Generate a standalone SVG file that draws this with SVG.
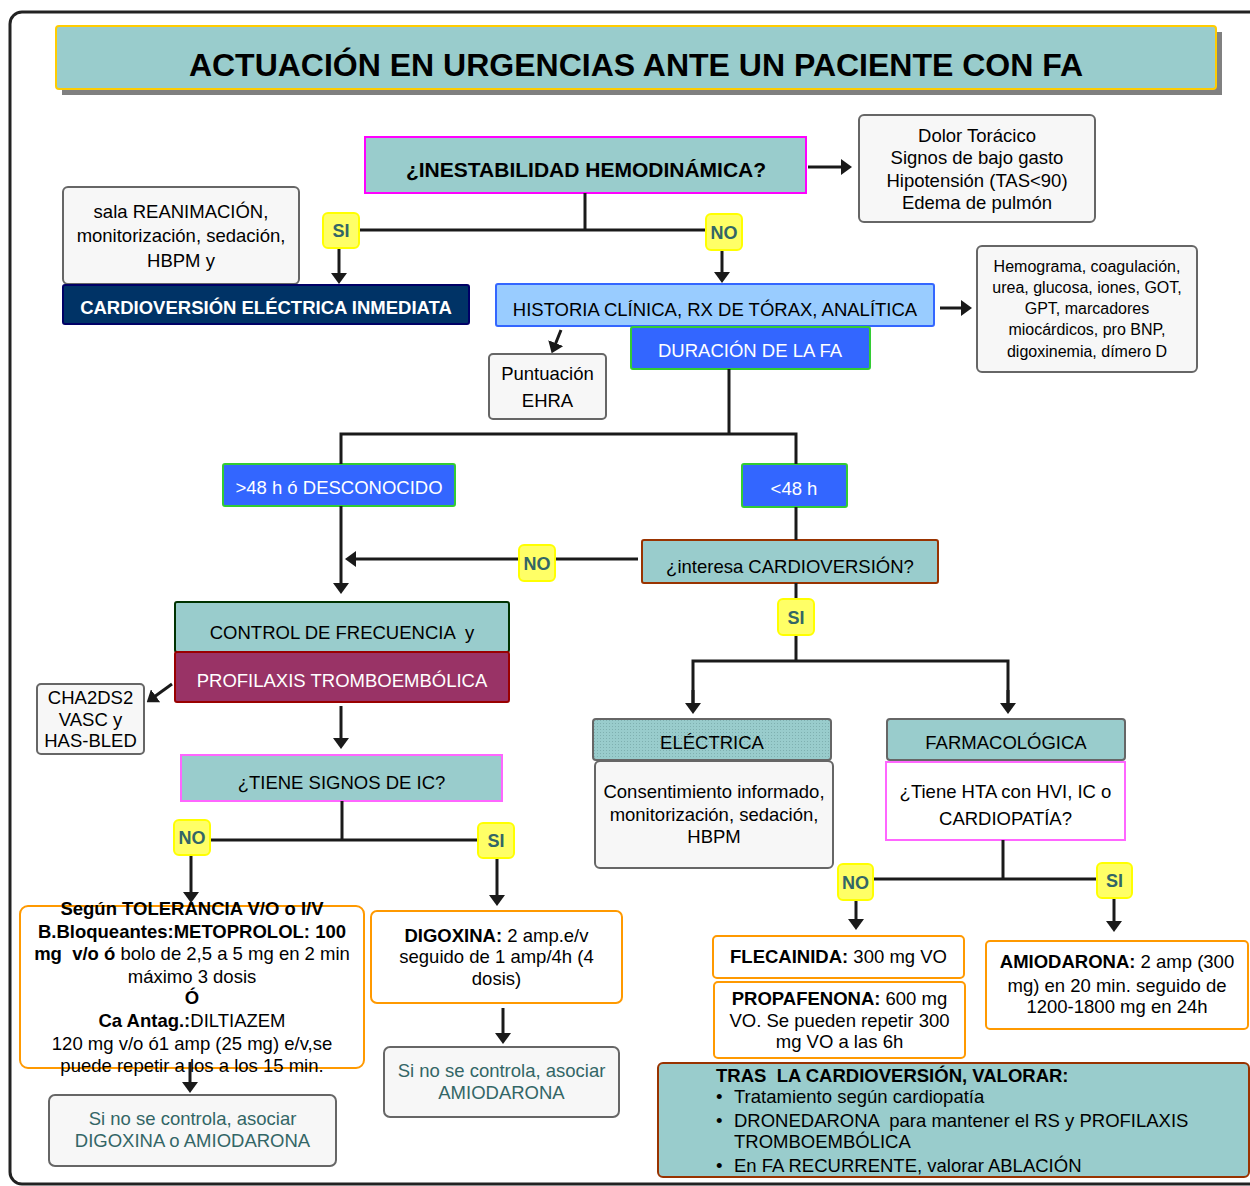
<svg xmlns="http://www.w3.org/2000/svg" width="1250" height="1186" viewBox="0 0 1250 1186">
<defs>
<style>
text{font-family:"Liberation Sans",Arial,sans-serif;fill:#000;}
.t{font-size:18.5px;text-anchor:middle;}
.ts{font-size:16px;text-anchor:middle;}
.b{font-weight:bold;}
.w{fill:#fff;}
.teal{fill:#336666;}
.grey{fill:#F7F7F7;stroke:#666;stroke-width:2;}
.org{fill:#fff;stroke:#FF9900;stroke-width:2;}
.aqua{fill:#99CCCC;}
.lbl rect{fill:#FFFF66;stroke:#FFFF00;stroke-width:2;}
.lbl text{font-size:18px;font-weight:bold;fill:#336666;text-anchor:middle;}
.c line,.c path{stroke:#1a1a1a;stroke-width:3;fill:none;}
.a{marker-end:url(#ah);}
</style>
<marker id="ah" viewBox="0 0 11 16" markerWidth="11" markerHeight="16" refX="2" refY="8" orient="auto" markerUnits="userSpaceOnUse">
<path d="M0,0 L11,8 L0,16 z" fill="#1a1a1a"/>
</marker>
<pattern id="dots" width="3" height="3" patternUnits="userSpaceOnUse">
<rect width="3" height="3" fill="#99CCCC"/>
<rect width="1" height="1" fill="#7FB0B0"/>
</pattern>
</defs>

<rect x="10" y="12" width="1272" height="1172" rx="12" fill="none" stroke="#222" stroke-width="3"/>

<g id="title">
<rect x="62" y="32" width="1160" height="63" fill="#808080"/>
<rect x="56" y="26" width="1160" height="63" rx="3" fill="#99CCCC" stroke="#FFCC00" stroke-width="2"/>
<text x="636" y="76" class="b" style="font-size:32px;text-anchor:middle">ACTUACIÓN EN URGENCIAS ANTE UN PACIENTE CON FA</text>
</g>

<g id="n-inestabilidad">
<rect x="365" y="137" width="441" height="56" class="aqua" stroke="#FF00FF" stroke-width="2"/>
<text x="586" y="177" class="b" style="font-size:21px;text-anchor:middle">¿INESTABILIDAD HEMODINÁMICA?</text>
</g>
<g id="n-dolor">
<rect x="859" y="115" width="236" height="107" rx="5" class="grey"/>
<text class="t"><tspan x="977" y="142">Dolor Torácico</tspan><tspan x="977" y="164">Signos de bajo gasto</tspan><tspan x="977" y="187">Hipotensión (TAS&lt;90)</tspan><tspan x="977" y="209">Edema de pulmón</tspan></text>
</g>
<g id="n-sala">
<rect x="63" y="187" width="236" height="97" rx="5" class="grey"/>
<text class="t"><tspan x="181" y="218">sala REANIMACIÓN,</tspan><tspan x="181" y="242">monitorización, sedación,</tspan><tspan x="181" y="267">HBPM y</tspan></text>
</g>
<g id="n-cve">
<rect x="63" y="285" width="406" height="39" rx="2" fill="#003366" stroke="#000066" stroke-width="2"/>
<text x="266" y="314" class="t b w">CARDIOVERSIÓN ELÉCTRICA INMEDIATA</text>
</g>
<g id="n-historia">
<rect x="496" y="284" width="438" height="42" rx="2" fill="#99CCFF" stroke="#3366FF" stroke-width="2"/>
<text x="715" y="316" class="t">HISTORIA CLÍNICA, RX DE TÓRAX, ANALÍTICA</text>
</g>
<g id="n-hemograma">
<rect x="977" y="246" width="220" height="126" rx="5" class="grey"/>
<text class="ts"><tspan x="1087" y="272">Hemograma, coagulación,</tspan><tspan x="1087" y="293">urea, glucosa, iones, GOT,</tspan><tspan x="1087" y="314">GPT, marcadores</tspan><tspan x="1087" y="335">miocárdicos, pro BNP,</tspan><tspan x="1087" y="357">digoxinemia, dímero D</tspan></text>
</g>
<g id="n-duracion">
<rect x="631" y="327" width="239" height="42" rx="2" fill="#3366FF" stroke="#33CC33" stroke-width="2"/>
<text x="750" y="357" class="t w">DURACIÓN DE LA FA</text>
</g>
<g id="n-ehra">
<rect x="489" y="354" width="117" height="65" rx="4" class="grey"/>
<text class="t"><tspan x="547.5" y="380">Puntuación</tspan><tspan x="547.5" y="407">EHRA</tspan></text>
</g>
<g id="n-mas48">
<rect x="223" y="464" width="232" height="42" rx="2" fill="#3366FF" stroke="#33CC33" stroke-width="2"/>
<text x="339" y="494" class="t w">&gt;48 h ó DESCONOCIDO</text>
</g>
<g id="n-menos48">
<rect x="742" y="464" width="105" height="43" rx="2" fill="#3366FF" stroke="#33CC33" stroke-width="2"/>
<text x="794" y="495" class="t w">&lt;48 h</text>
</g>
<g id="n-interesa">
<rect x="642" y="540" width="296" height="43" rx="2" class="aqua" stroke="#993300" stroke-width="2"/>
<text x="790" y="573" class="t">¿interesa CARDIOVERSIÓN?</text>
</g>
<g id="n-control">
<rect x="175" y="602" width="334" height="50" rx="2" class="aqua" stroke="#003300" stroke-width="2"/>
<text x="342" y="639" class="t" xml:space="preserve">CONTROL DE FRECUENCIA  y</text>
</g>
<g id="n-profilaxis">
<rect x="175" y="652" width="334" height="50" rx="2" fill="#993366" stroke="#990000" stroke-width="2"/>
<text x="342" y="687" class="t w">PROFILAXIS TROMBOEMBÓLICA</text>
</g>
<g id="n-cha2ds2">
<rect x="37" y="684" width="107" height="70" rx="4" class="grey"/>
<text class="t"><tspan x="90.5" y="704">CHA2DS2</tspan><tspan x="90.5" y="726">VASC y</tspan><tspan x="90.5" y="747">HAS-BLED</tspan></text>
</g>
<g id="n-tiene-ic">
<rect x="181" y="755" width="321" height="46" class="aqua" stroke="#FF66FF" stroke-width="2"/>
<text x="341.5" y="789" class="t">¿TIENE SIGNOS DE IC?</text>
</g>
<g id="n-segun">
<rect x="20" y="906" width="344" height="162" rx="8" class="org"/>
<text class="t"><tspan x="192" y="915" class="b">Según TOLERANCIA V/O o I/V</tspan><tspan x="192" y="938" class="b">B.Bloqueantes:METOPROLOL: 100</tspan><tspan x="192" y="960"><tspan class="b" xml:space="preserve">mg  v/o ó</tspan> bolo de 2,5 a 5 mg en 2 min</tspan><tspan x="192" y="983">máximo 3 dosis</tspan><tspan x="192" y="1004" class="b">Ó</tspan><tspan x="192" y="1027"><tspan class="b">Ca Antag.:</tspan>DILTIAZEM</tspan><tspan x="192" y="1050">120 mg v/o ó1 amp (25 mg) e/v,se</tspan><tspan x="192" y="1072">puede repetir a los a los 15 min.</tspan></text>
</g>
<g id="n-sino-digox">
<rect x="49" y="1095" width="287" height="71" rx="6" class="grey" fill="#F5F5F5"/>
<text class="t teal"><tspan x="192.5" y="1125">Si no se controla, asociar</tspan><tspan x="192.5" y="1147">DIGOXINA o AMIODARONA</tspan></text>
</g>
<g id="n-digoxina">
<rect x="371" y="911" width="251" height="92" rx="6" class="org"/>
<text class="t"><tspan x="496.5" y="942"><tspan class="b">DIGOXINA:</tspan> 2 amp.e/v</tspan><tspan x="496.5" y="963">seguido de 1 amp/4h (4</tspan><tspan x="496.5" y="985">dosis)</tspan></text>
</g>
<g id="n-sino-amio">
<rect x="384" y="1047" width="235" height="70" rx="6" class="grey"/>
<text class="t teal"><tspan x="501.5" y="1077">Si no se controla, asociar</tspan><tspan x="501.5" y="1099">AMIODARONA</tspan></text>
</g>
<g id="n-electrica">
<rect x="593" y="719" width="238" height="41" rx="3" fill="url(#dots)" stroke="#666" stroke-width="2"/>
<text x="712" y="749" class="t">ELÉCTRICA</text>
</g>
<g id="n-consentimiento">
<rect x="595" y="761" width="238" height="107" rx="5" class="grey"/>
<text class="t"><tspan x="714" y="798">Consentimiento informado,</tspan><tspan x="714" y="821">monitorización, sedación,</tspan><tspan x="714" y="843">HBPM</tspan></text>
</g>
<g id="n-farmacologica">
<rect x="887" y="719" width="238" height="41" rx="3" class="aqua" stroke="#666" stroke-width="2"/>
<text x="1006" y="749" class="t">FARMACOLÓGICA</text>
</g>
<g id="n-tiene-hta">
<rect x="886" y="762" width="239" height="78" fill="#fff" stroke="#FF66FF" stroke-width="2"/>
<text class="t"><tspan x="1005.5" y="798">¿Tiene HTA con HVI, IC o</tspan><tspan x="1005.5" y="825">CARDIOPATÍA?</tspan></text>
</g>
<g id="n-flecainida">
<rect x="713" y="936" width="251" height="42" rx="4" class="org"/>
<text x="838.5" y="963" class="t"><tspan class="b">FLECAINIDA:</tspan> 300 mg VO</text>
</g>
<g id="n-propafenona">
<rect x="714" y="982" width="251" height="76" rx="4" class="org"/>
<text class="t"><tspan x="839.5" y="1005"><tspan class="b">PROPAFENONA:</tspan> 600 mg</tspan><tspan x="839.5" y="1027">VO. Se pueden repetir 300</tspan><tspan x="839.5" y="1048">mg VO a las 6h</tspan></text>
</g>
<g id="n-amiodarona">
<rect x="986" y="941" width="262" height="88" rx="4" class="org"/>
<text class="t"><tspan x="1117" y="968"><tspan class="b">AMIODARONA:</tspan> 2 amp (300</tspan><tspan x="1117" y="992">mg) en 20 min. seguido de</tspan><tspan x="1117" y="1013">1200-1800 mg en 24h</tspan></text>
</g>
<g id="n-tras">
<rect x="658" y="1063" width="591" height="114" rx="5" class="aqua" stroke="#993300" stroke-width="2"/>
<text style="font-size:18.5px" xml:space="preserve"><tspan x="716" y="1082" class="b">TRAS  LA CARDIOVERSIÓN, VALORAR:</tspan><tspan x="716" y="1103">•</tspan><tspan x="734" y="1103">Tratamiento según cardiopatía</tspan><tspan x="716" y="1127">•</tspan><tspan x="734" y="1127">DRONEDARONA  para mantener el RS y PROFILAXIS</tspan><tspan x="734" y="1148">TROMBOEMBÓLICA</tspan><tspan x="716" y="1172">•</tspan><tspan x="734" y="1172">En FA RECURRENTE, valorar ABLACIÓN</tspan></text>
</g>

<g id="connectors" class="c">
<line x1="585" y1="193" x2="585" y2="230"/>
<line x1="341" y1="230" x2="722" y2="230"/>
<line class="a" x1="339" y1="230" x2="339" y2="275"/>
<line class="a" x1="722" y1="230" x2="722" y2="274"/>
<line class="a" x1="808" y1="167" x2="843" y2="167"/>
<line class="a" x1="940" y1="308" x2="963" y2="308"/>
<line class="a" x1="561" y1="330" x2="555" y2="345"/>
<line x1="729" y1="369" x2="729" y2="434"/>
<path d="M341,464 V434 H796 V464"/>
<line x1="796" y1="507" x2="796" y2="540"/>
<line x1="796" y1="583" x2="796" y2="661"/>
<path d="M693,705 V661 H1008 V705"/>
<line class="a" x1="693" y1="690" x2="693" y2="705"/>
<line class="a" x1="1008" y1="690" x2="1008" y2="705"/>
<line class="a" x1="638" y1="559" x2="354" y2="559"/>
<line class="a" x1="341" y1="506" x2="341" y2="585"/>
<line class="a" x1="172" y1="684" x2="154" y2="697"/>
<line class="a" x1="341" y1="706" x2="341" y2="740"/>
<line x1="342" y1="801" x2="342" y2="840"/>
<line x1="191" y1="840" x2="497" y2="840"/>
<line class="a" x1="191" y1="840" x2="191" y2="894"/>
<line class="a" x1="497" y1="840" x2="497" y2="897"/>
<line class="a" x1="190" y1="1062" x2="190" y2="1084"/>
<line class="a" x1="503" y1="1008" x2="503" y2="1035"/>
<line x1="1003" y1="840" x2="1003" y2="879"/>
<line x1="856" y1="879" x2="1114" y2="879"/>
<line class="a" x1="856" y1="879" x2="856" y2="921"/>
<line class="a" x1="1114" y1="879" x2="1114" y2="923"/>
</g>

<g id="labels">
<g id="l-si1" class="lbl"><rect x="323" y="213" width="36" height="35" rx="5"/><text x="341" y="237">SI</text></g>
<g id="l-no1" class="lbl"><rect x="706" y="214" width="36" height="36" rx="5"/><text x="724" y="239">NO</text></g>
<g id="l-no2" class="lbl"><rect x="519" y="545" width="36" height="36" rx="5"/><text x="537" y="570">NO</text></g>
<g id="l-si2" class="lbl"><rect x="778" y="599" width="36" height="36" rx="5"/><text x="796" y="624">SI</text></g>
<g id="l-no3" class="lbl"><rect x="174" y="820" width="36" height="35" rx="5"/><text x="192" y="844">NO</text></g>
<g id="l-si3" class="lbl"><rect x="478" y="823" width="36" height="35" rx="5"/><text x="496" y="847">SI</text></g>
<g id="l-no4" class="lbl"><rect x="838" y="864" width="35" height="36" rx="5"/><text x="855.5" y="889">NO</text></g>
<g id="l-si4" class="lbl"><rect x="1097" y="863" width="35" height="35" rx="5"/><text x="1114.5" y="887">SI</text></g>
</g>
</svg>
